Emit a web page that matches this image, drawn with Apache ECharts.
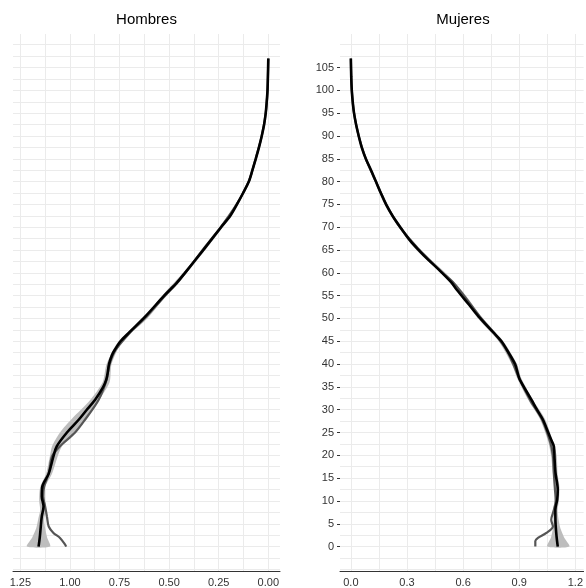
<!DOCTYPE html>
<html><head><meta charset="utf-8">
<script src="https://cdn.jsdelivr.net/npm/echarts@6/dist/echarts.min.js"></script>
<style>html,body{margin:0;padding:0;background:#fff}#c{width:586px;height:588px}</style>
</head><body><div id="c"></div>
<script>
// ---- labels / ticks ----
const panelTitles = ['Hombres', 'Mujeres'];
const yTickLabels = [0,5,10,15,20,25,30,35,40,45,50,55,60,65,70,75,80,85,90,95,100,105];
const yGridValues = [-5,-2.5,0,2.5,5,7.5,10,12.5,15,17.5,20,22.5,25,27.5,30,32.5,35,37.5,40,42.5,45,47.5,50,52.5,55,57.5,60,62.5,65,67.5,70,72.5,75,77.5,80,82.5,85,87.5,90,92.5,95,97.5,100,102.5,105,107.5,110];
const xTickLabelsH = [0,0.25,0.5,0.75,1,1.25];
const xGridH = [0,0.125,0.25,0.375,0.5,0.625,0.75,0.875,1,1.125,1.25];
const xTickLabelsM = [0,0.3,0.6,0.9,1.2];
const xGridM = [0,0.15,0.3,0.45,0.6,0.75,0.9,1.05,1.2];

// ---- Hombres ----
const hAgesBlack = [0,2,4.4,6.6,8.8,11,13.2,16,19.8,22,25,27.8,30,32.2,35,36.6,38,40,42,43.2,45,47,50.4,55,57.8,60,65.1,70,72.4,75,77.5,80,82.5,85,87.5,90,92.5,95,97.5,100,103,107];
const hBlack     = [1.158,1.152,1.147,1.142,1.133,1.142,1.139,1.107,1.083,1.066,1.015,0.956,0.915,0.873,0.832,0.817,0.81,0.803,0.788,0.773,0.745,0.70,0.621,0.525,0.462,0.42,0.326,0.238,0.193,0.158,0.127,0.098,0.08,0.063,0.047,0.033,0.021,0.013,0.008,0.004,0.002,0];
const hAgesGray  = [0,0.5,1.9,3,4.4,6.6,8.8,11,13.2,16,19.8,22,25,27.8,32.2,36.6,40,43.2,47,50.4,55,57.8,60,65.1,70,75,80,85,90,95,100,107];
const hGray      = [1.019,1.025,1.05,1.083,1.107,1.116,1.125,1.135,1.13,1.107,1.09,1.05,0.974,0.924,0.855,0.815,0.80,0.768,0.695,0.615,0.52,0.458,0.418,0.33,0.24,0.16,0.099,0.064,0.033,0.013,0.004,0];
const hAgesBand  = [0,2,4,6,8,10,13,16,20,22,25,28,32,36,40,45,50,55,60,65,70,75,80,85,90,95,100,107];
const hBandLo    = [1.10,1.115,1.125,1.13,1.12,1.125,1.125,1.09,1.06,1.04,0.975,0.925,0.855,0.80,0.79,0.735,0.61,0.515,0.41,0.318,0.23,0.152,0.093,0.058,0.03,0.011,0.003,0];
const hBandHi    = [1.217,1.19,1.17,1.16,1.15,1.155,1.15,1.12,1.10,1.09,1.05,0.99,0.90,0.835,0.815,0.755,0.632,0.535,0.43,0.335,0.245,0.165,0.104,0.068,0.036,0.015,0.005,0];

// ---- Mujeres ----
const mAgesBlack = [0,2,5.2,8.1,10.3,12.5,16.1,19.1,22,23.4,25,27.8,30,32.2,36.6,38,40,43.2,45,47,50.4,53,56.3,58,60.7,63,65.1,67,69.4,72.4,75,77.5,80,82.5,85,87.5,90,92.5,95,97.5,100,103,107];
const mBlack     = [1.106,1.10,1.094,1.093,1.103,1.106,1.094,1.089,1.085,1.071,1.055,1.027,0.995,0.965,0.903,0.892,0.878,0.833,0.805,0.76,0.683,0.632,0.566,0.535,0.47,0.41,0.36,0.318,0.275,0.224,0.188,0.16,0.134,0.108,0.08,0.058,0.042,0.028,0.017,0.01,0.005,0.002,0];
const mAgesGray  = [0,1.2,1.9,3,4.4,5.9,8,10,13,16,20,23,28,32,37,40,43.2,47,50.4,55,57.8,60,62,65.1,70,75,80,85,90,95,100,107];
const mGray      = [0.986,0.986,1.0,1.045,1.08,1.071,1.085,1.095,1.09,1.085,1.08,1.065,1.02,0.96,0.898,0.868,0.83,0.762,0.69,0.605,0.55,0.49,0.44,0.365,0.262,0.19,0.134,0.08,0.042,0.017,0.005,0];
const mAgesBand  = [0,2,4,6,8,10,13,16,20,23,28,32,37,40,45,50,55,60,65,70,75,80,85,90,95,100,107];
const mBandLo    = [1.05,1.07,1.08,1.083,1.08,1.09,1.092,1.08,1.07,1.055,1.01,0.95,0.888,0.86,0.79,0.68,0.59,0.48,0.35,0.255,0.18,0.127,0.074,0.037,0.014,0.004,0];
const mBandHi    = [1.168,1.14,1.12,1.11,1.105,1.112,1.115,1.105,1.1,1.08,1.037,0.975,0.91,0.888,0.815,0.705,0.615,0.505,0.372,0.272,0.195,0.141,0.086,0.047,0.02,0.006,0];

const FONT = '"Liberation Sans", Arial, Helvetica, sans-serif';
const GRIDC = '#ebebeb';

function pairs(vals, ages) { return ages.map((a, i) => [vals[i], a]); }

function band(xi, yi, ages, lo, hi) {
  return {
    type: 'custom', xAxisIndex: xi, yAxisIndex: yi, silent: true, z: 1,
    data: ages.map((a, i) => [lo[i], a, hi[i]]),
    encode: { x: [0, 2], y: 1 },
    renderItem: function (params, api) {
      if (params.dataIndex !== 0) return null;
      const pts = [];
      for (let i = 0; i < ages.length; i++) pts.push(api.coord([lo[i], ages[i]]));
      for (let i = ages.length - 1; i >= 0; i--) pts.push(api.coord([hi[i], ages[i]]));
      return { type: 'polygon', shape: { points: pts, smooth: 0.25 }, style: { fill: '#bdbdbd' } };
    }
  };
}
function line(xi, yi, vals, ages, color, w, z) {
  return {
    type: 'line', xAxisIndex: xi, yAxisIndex: yi, data: pairs(vals, ages),
    showSymbol: false, smooth: 0.3, silent: true, z: z,
    lineStyle: { color: color, width: w }, itemStyle: { color: color }
  };
}

const xBase = {
  type: 'value', position: 'bottom',
  axisLine: { show: true, onZero: false, lineStyle: { color: '#333', width: 1 } },
  splitLine: { show: true, lineStyle: { color: GRIDC, width: 1 } },
  axisLabel: { color: '#333', fontSize: 11, fontFamily: FONT, margin: 6 }
};

const chart = echarts.init(document.getElementById('c'), null, { renderer: 'canvas' });
chart.setOption({
  animation: false,
  backgroundColor: '#fff',
  graphic: [
    { type: 'text', x: 146.5, y: 20, style: { text: panelTitles[0], font: '15px ' + FONT, fill: '#000', textAlign: 'center', textVerticalAlign: 'middle' } },
    { type: 'text', x: 463, y: 20, style: { text: panelTitles[1], font: '15px ' + FONT, fill: '#000', textAlign: 'center', textVerticalAlign: 'middle' } }
  ],
  grid: [
    { left: 13, top: 34, width: 267, height: 537.4 },
    { left: 340, top: 34, width: 246, height: 537.4 }
  ],
  xAxis: [
    Object.assign({}, xBase, {
      gridIndex: 0, inverse: true, min: -0.059, max: 1.287,
      axisTick: { show: false, customValues: xGridH },
      axisLabel: Object.assign({}, xBase.axisLabel, { customValues: xTickLabelsH, formatter: v => (+v).toFixed(2) })
    }),
    Object.assign({}, xBase, {
      gridIndex: 1, min: -0.058, max: 1.244,
      axisTick: { show: false, customValues: xGridM },
      axisLabel: Object.assign({}, xBase.axisLabel, { customValues: xTickLabelsM, formatter: v => (+v).toFixed(1) })
    })
  ],
  yAxis: [
    { type: 'value', gridIndex: 0, position: 'left', min: -5.35, max: 112.35, axisLine: { show: false, onZero: false },
      axisTick: { show: false, customValues: yGridValues }, axisLabel: { show: false },
      splitLine: { show: true, lineStyle: { color: GRIDC, width: 1 } } },
    { type: 'value', gridIndex: 1, position: 'left', min: -5.35, max: 112.35, axisLine: { show: false, onZero: false },
      axisTick: { show: false, customValues: yGridValues }, axisLabel: { show: false },
      splitLine: { show: true, lineStyle: { color: GRIDC, width: 1 } } },
    { type: 'value', gridIndex: 1, position: 'left', offset: 0, min: -5.35, max: 112.35, axisLine: { show: false, onZero: false },
      axisTick: { show: true, length: 3, customValues: yTickLabels, lineStyle: { color: '#333', width: 1 } },
      axisLabel: { show: true, customValues: yTickLabels, color: '#333', fontSize: 11, fontFamily: FONT, margin: 6 },
      splitLine: { show: false } }
  ],
  series: [
    band(0, 0, hAgesBand, hBandLo, hBandHi),
    line(0, 0, hGray, hAgesGray, '#555555', 2.2, 2),
    line(0, 0, hBlack, hAgesBlack, '#000000', 2.6, 3),
    band(1, 1, mAgesBand, mBandLo, mBandHi),
    line(1, 1, mGray, mAgesGray, '#555555', 2.2, 2),
    line(1, 1, mBlack, mAgesBlack, '#000000', 2.6, 3)
  ]
});
</script>
</body></html>
